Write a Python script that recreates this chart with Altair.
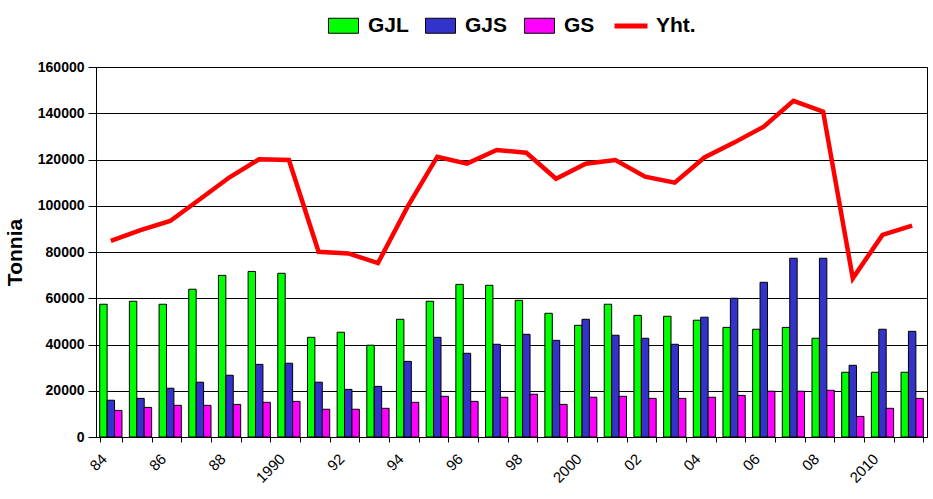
import altair as alt
import pandas as pd

years = [1984, 1985, 1986, 1987, 1988, 1989, 1990, 1991, 1992, 1993, 1994, 1995, 1996, 1997,
         1998, 1999, 2000, 2001, 2002, 2003, 2004, 2005, 2006, 2007, 2008, 2009, 2010, 2011]
x_labels = ["84", "", "86", "", "88", "", "1990", "", "92", "", "94", "", "96", "",
            "98", "", "2000", "", "02", "", "04", "", "06", "", "08", "", "2010", ""]

gjl = [57400, 58700, 57400, 63900, 69900, 71600, 70800, 43100, 45300, 39700, 50900, 58700, 66000, 65600,
       59100, 53500, 48300, 57400, 52600, 52200, 50500, 47400, 46600, 47400, 42700, 28000, 28000, 28000]
gjs = [15900, 16700, 21100, 23700, 26700, 31400, 31900, 23700, 20600, 21900, 32700, 43100, 36200, 40100,
       44400, 41800, 50900, 44000, 42700, 40100, 51800, 60000, 66900, 77300, 77300, 31000, 46600, 45700]
gs = [11500, 12800, 13700, 13700, 14100, 15000, 15400, 12000, 12000, 12400, 15000, 17600, 15400, 17200,
      18500, 14100, 17200, 17600, 16700, 16700, 17200, 18000, 19800, 19800, 20200, 8900, 12400, 16700]
yht = [84800, 89500, 93400, 102800, 112300, 120100, 119800, 80100, 79400, 75200, 99600, 121200, 118200, 124100,
       122900, 111700, 118200, 119800, 112600, 110000, 120900, 127300, 134200, 145400, 140700, 68600, 87400, 91400]

bar_series = ["GJL", "GJS", "GS"]
bar_colors = ["#00FF00", "#3333CC", "#FF00FF"]
line_series = "Yht."
line_color = "#FF0000"
y_ticks = [0, 20000, 40000, 60000, 80000, 100000, 120000, 140000, 160000]

rows = []
for name, vals in zip(bar_series, [gjl, gjs, gs]):
    for yr, v in zip(years, vals):
        rows.append({"year": yr, "series": name, "value": v})
bar_df = pd.DataFrame(rows)
line_df = pd.DataFrame({"year": years, "series": [line_series] * len(years), "value": yht})

label_expr = "[" + ",".join("'" + s + "'" for s in x_labels) + "][indexof([" + \
    ",".join(str(y) for y in years) + "], datum.value)]"

FONT = "Liberation Sans"

x_enc = alt.X(
    "year:O",
    sort=years,
    scale=alt.Scale(paddingInner=0.25, paddingOuter=0.125),
    axis=alt.Axis(
        title=None, labelExpr=label_expr, labelAngle=-45, labelAlign="right",
        labelBaseline="middle", labelPadding=14, labelOffset=-7, labelFontSize=15,
        labelFont=FONT, labelColor="black", tickBand="extent", tickSize=5,
        tickColor="black", domainColor="black", grid=False, labelOverlap=False,
    ),
)
y_enc = alt.Y(
    "value:Q",
    scale=alt.Scale(domain=[0, 160000], nice=False),
    axis=alt.Axis(
        title="Tonnia", values=y_ticks, format="d", labelFontSize=14,
        labelFontWeight="bold", labelFont=FONT, labelColor="black", tickSize=8,
        tickColor="black", labelPadding=4, domainColor="black", grid=True,
        gridColor="black", gridWidth=1, titleFont=FONT, titleFontSize=21,
        titleFontWeight="bold", titleColor="black", titlePadding=12,
    ),
)

bars = alt.Chart(bar_df).mark_bar(stroke="black", strokeWidth=1, opacity=1).encode(
    x=x_enc,
    xOffset=alt.XOffset("series:N", sort=bar_series,
                        scale=alt.Scale(paddingInner=0, paddingOuter=0)),
    y=y_enc,
    color=alt.Color(
        "series:N", sort=bar_series,
        scale=alt.Scale(domain=bar_series, range=bar_colors),
        legend=alt.Legend(
            title=None, orient="none", direction="horizontal", legendX=232, legendY=-57,
            symbolType="M-1,-0.5H1V0.5H-1Z", symbolSize=900, symbolStrokeColor="black",
            symbolStrokeWidth=1, symbolOpacity=1, labelFont=FONT, labelFontSize=21,
            labelFontWeight="bold", labelColor="black", labelOffset=9, columnPadding=14,
            padding=0, labelLimit=200,
        ),
    ),
)

line = alt.Chart(line_df).mark_line(strokeWidth=4.5).encode(
    x=alt.X("year:O", sort=years),
    y=alt.Y("value:Q"),
    stroke=alt.Stroke(
        "series:N",
        scale=alt.Scale(domain=[line_series], range=[line_color]),
        legend=alt.Legend(
            title=None, orient="none", direction="horizontal", legendX=516, legendY=-60,
            symbolType="stroke", symbolSize=1089, symbolStrokeWidth=5, labelFont=FONT,
            labelFontSize=21, labelFontWeight="bold", labelColor="black", labelOffset=6,
            padding=0, labelLimit=200,
        ),
    ),
)

chart = alt.layer(bars, line).properties(
    width=831, height=370,
    autosize=alt.AutoSizeParams(type="none"),
    padding={"left": 96, "top": 67, "right": 6, "bottom": 62},
    background="white",
).configure_view(stroke="black", strokeWidth=1)

chart.save("out.html", embed_options={"renderer": "svg", "actions": False})
